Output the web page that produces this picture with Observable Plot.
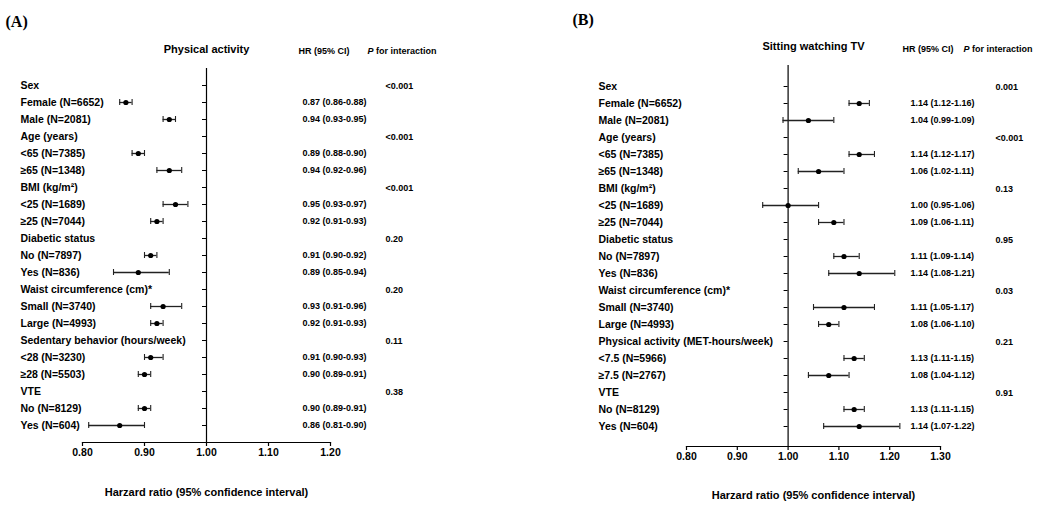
<!DOCTYPE html>
<html><head><meta charset="utf-8">
<script src="https://cdn.jsdelivr.net/npm/d3@7"></script>
<script src="https://cdn.jsdelivr.net/npm/@observablehq/plot@0.6"></script>
<style>
body{margin:0;background:#fff}
#wrap{display:flex;width:1050px;height:512px}
</style>
</head><body><div id="wrap"></div>
<script>
// Panel A: Physical activity
const labelsA = ["Sex","Female (N=6652)","Male (N=2081)","Age (years)","<65 (N=7385)","≥65 (N=1348)","BMI (kg/m²)","<25 (N=1689)","≥25 (N=7044)","Diabetic status","No (N=7897)","Yes (N=836)","Waist circumference (cm)*","Small (N=3740)","Large (N=4993)","Sedentary behavior (hours/week)","<28 (N=3230)","≥28 (N=5503)","VTE","No (N=8129)","Yes (N=604)"];
const hrA = [null,0.87,0.94,null,0.89,0.94,null,0.95,0.92,null,0.91,0.89,null,0.93,0.92,null,0.91,0.90,null,0.90,0.86];
const loA = [null,0.86,0.93,null,0.88,0.92,null,0.93,0.91,null,0.90,0.85,null,0.91,0.91,null,0.90,0.89,null,0.89,0.81];
const hiA = [null,0.88,0.95,null,0.90,0.96,null,0.97,0.93,null,0.92,0.94,null,0.96,0.93,null,0.93,0.91,null,0.91,0.90];
const pA = ["<0.001",null,null,"<0.001",null,null,"<0.001",null,null,"0.20",null,null,"0.20",null,null,"0.11",null,null,"0.38",null,null];

// Panel B: Sitting watching TV
const labelsB = ["Sex","Female (N=6652)","Male (N=2081)","Age (years)","<65 (N=7385)","≥65 (N=1348)","BMI (kg/m²)","<25 (N=1689)","≥25 (N=7044)","Diabetic status","No (N=7897)","Yes (N=836)","Waist circumference (cm)*","Small (N=3740)","Large (N=4993)","Physical activity (MET-hours/week)","<7.5 (N=5966)","≥7.5 (N=2767)","VTE","No (N=8129)","Yes (N=604)"];
const hrB = [null,1.14,1.04,null,1.14,1.06,null,1.00,1.09,null,1.11,1.14,null,1.11,1.08,null,1.13,1.08,null,1.13,1.14];
const loB = [null,1.12,0.99,null,1.12,1.02,null,0.95,1.06,null,1.09,1.08,null,1.05,1.06,null,1.11,1.04,null,1.11,1.07];
const hiB = [null,1.16,1.09,null,1.17,1.11,null,1.06,1.11,null,1.14,1.21,null,1.17,1.10,null,1.15,1.12,null,1.15,1.22];
const pB = ["0.001",null,null,"<0.001",null,null,"0.13",null,null,"0.95",null,null,"0.03",null,null,"0.21",null,null,"0.91",null,null];

const xDomainA = [0.8, 1.2];
const xDomainB = [0.8, 1.3];

const fmt = d3.format(".2f");

function panel(o) {
  const rows = o.labels.map((label, i) => ({key: i, label, hr: o.hr[i], lo: o.lo[i], hi: o.hi[i], p: o.p[i]}));
  const est = rows.filter(d => d.hr != null);
  const pv = rows.filter(d => d.p != null);
  const keys = rows.map(d => d.key);
  const L = o.L;
  return Plot.plot({
    width: 525, height: 512,
    marginLeft: L.ml, marginRight: L.mr, marginTop: L.mt, marginBottom: L.mb,
    style: {fontFamily: "'Liberation Sans', Arial, sans-serif", fontWeight: "bold", color: "#000", background: "#fff", overflow: "visible"},
    x: {domain: o.xDomain},
    y: {type: "point", domain: keys, padding: L.pad, axis: null},
    marks: [
      Plot.frame({anchor: "bottom", stroke: "#000", strokeWidth: 1.2}),
      Plot.axisX({ticks: 5, tickSize: 4, tickPadding: 2, tickFormat: fmt, fontSize: 10.5, fontWeight: "bold", label: null, strokeWidth: 1.2}),
      Plot.ruleX([1], {stroke: "#000", strokeWidth: 1.2}),
      Plot.ruleY(rows, {y: "key", x1: () => 1, x2: () => 1, insetLeft: -4, stroke: "#000", strokeWidth: 1}),
      Plot.ruleY(est, {y: "key", x1: "lo", x2: "hi", stroke: "#222", strokeWidth: 1.3}),
      Plot.ruleX(est, {x: "lo", y1: "key", y2: "key", insetTop: -3, insetBottom: -3, stroke: "#222", strokeWidth: 1.1}),
      Plot.ruleX(est, {x: "hi", y1: "key", y2: "key", insetTop: -3, insetBottom: -3, stroke: "#222", strokeWidth: 1.1}),
      Plot.dot(est, {x: "hr", y: "key", r: 2.6, fill: "#000", stroke: "none"}),
      Plot.text(rows, {y: "key", text: "label", frameAnchor: "left", dx: L.labDx, textAnchor: "start", fontSize: 10.5}),
      Plot.text(est, {y: "key", text: d => `${fmt(d.hr)} (${fmt(d.lo)}-${fmt(d.hi)})`, frameAnchor: "right", dx: L.hrDx, textAnchor: "start", fontSize: 9}),
      Plot.text(pv, {y: "key", text: "p", frameAnchor: "right", dx: L.pDx, dy: 1, textAnchor: "start", fontSize: 9}),
      Plot.text(["HR (95% CI)"], {frameAnchor: "top-right", dx: L.hrHDx, dy: L.hDy, textAnchor: "start", fontSize: 9}),
      Plot.text(["P"], {frameAnchor: "top-right", dx: L.pHDx, dy: L.hDy, textAnchor: "start", fontSize: 9, fontStyle: "italic"}),
      Plot.text(["for interaction"], {frameAnchor: "top-right", dx: L.pHDx + 8.5, dy: L.hDy, textAnchor: "start", fontSize: 9}),
      Plot.text([o.title], {frameAnchor: "top", dy: L.tDy, fontSize: 11}),
      Plot.text(["Harzard ratio (95% confidence interval)"], {frameAnchor: "bottom", dy: L.xlDy, fontSize: 11}),
      Plot.text([o.tag], {frameAnchor: "top-left", dx: L.tagDx, dy: L.tagDy, textAnchor: "start", fontSize: 16, fontFamily: "'Liberation Serif', 'Times New Roman', serif", fontWeight: "bold"})
    ]
  });
}

const wrap = document.getElementById("wrap");
wrap.appendChild(panel({
  labels: labelsA, hr: hrA, lo: loA, hi: hiA, p: pA, xDomain: xDomainA,
  title: "Physical activity", tag: "(A)",
  L: {ml: 82, mr: 195, mt: 68, mb: 70, pad: 0.686, labDx: -62, hrDx: -28, pDx: 55, hrHDx: -32, pHDx: 37, hDy: -21, tDy: -23, xlDy: 53, tagDx: -77, tagDy: -53}
}));
wrap.appendChild(panel({
  labels: labelsB, hr: hrB, lo: loB, hi: hiB, p: pB, xDomain: xDomainB,
  title: "Sitting watching TV", tag: "(B)",
  L: {ml: 161, mr: 110, mt: 65, mb: 66, pad: 0.67, labDx: -88, hrDx: -30, pDx: 55, hrHDx: -38, pHDx: 23, hDy: -20, tDy: -23, xlDy: 52, tagDx: -114, tagDy: -52}
}));
</script>
</body></html>
